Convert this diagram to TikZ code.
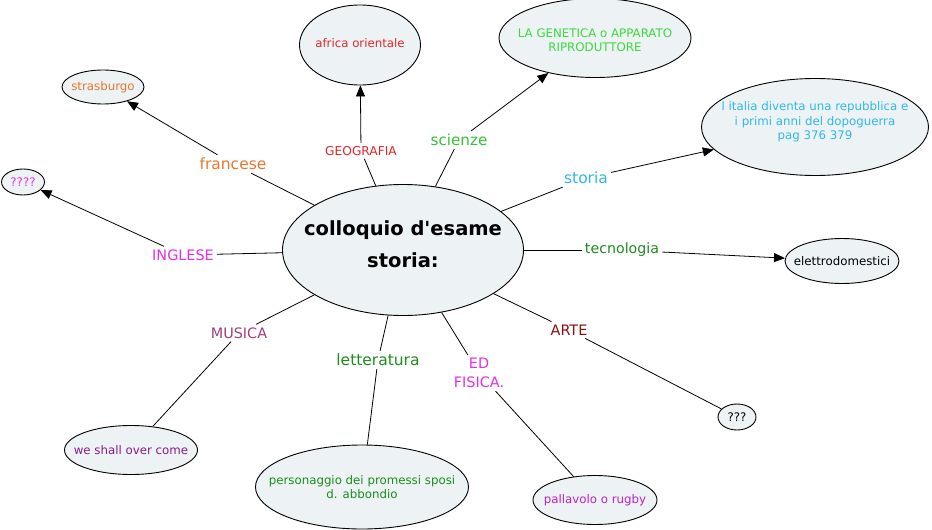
\documentclass[tikz,border=0pt]{standalone}
\usepackage{fontspec}
\setmainfont{DejaVu Sans}
\usetikzlibrary{shapes.geometric,arrows.meta}
\definecolor{bubblefill}{HTML}{EDF3F5}
\definecolor{corange}{HTML}{E8782C}
\definecolor{cred}{HTML}{E02828}
\definecolor{cbgreen}{HTML}{3CD83C}
\definecolor{ccyan}{HTML}{30B8EA}
\definecolor{cdgreen}{HTML}{1E8C1E}
\definecolor{cdarkred}{HTML}{8B1010}
\definecolor{cmagenta}{HTML}{E62EE6}
\definecolor{cpall}{HTML}{C020C0}
\definecolor{cmusica}{HTML}{A0407A}
\definecolor{cpurple}{HTML}{8B1A8B}
\tikzset{
  bubble/.style={ellipse, draw=black, line width=0.9pt, fill=bubblefill, inner sep=0pt},
  ntext/.style={font=\fontsize{11.8}{14.5}\selectfont, align=center, inner sep=0pt},
  lab/.style={font=\fontsize{14.4}{19}\selectfont, align=center, inner sep=3pt},
  conn/.style={draw=black, line width=0.8pt},
  arr/.style={conn, -{Triangle[length=11pt,width=9pt]}}
}
\begin{document}
\begin{tikzpicture}[x=1pt,y=-1pt]
\useasboundingbox[fill=white] (0,0) rectangle (932,530);
% central concept
\node[bubble, minimum width=241, minimum height=131] (c) at (403,250) {};
\node[font=\bfseries\fontsize{19.5}{32}\selectfont, align=center, inner sep=0pt] (ct) at (403,244) {colloquio d\textquotesingle esame\\storia:};
% leaf bubbles
\node[bubble, minimum width=82, minimum height=34] (stra) at (103,87) {};
\node[ntext, text=corange] (stra-t) at (stra) {strasburgo};
\node[bubble, minimum width=43, minimum height=26] (q4) at (23,182) {};
\node[ntext, text=cmagenta] (q4-t) at (q4) {????};
\node[bubble, minimum width=121, minimum height=80] (afr) at (360,45) {};
\node[ntext, text=cred] (afr-t) at (360,43) {africa orientale};
\node[bubble, minimum width=192, minimum height=79] (gen) at (595,38) {};
\node[ntext, text=cbgreen] (gen-t) at (595,40) {LA GENETICA o APPARATO\\RIPRODUTTORE};
\node[bubble, minimum width=227, minimum height=97] (stn) at (815,127) {};
\node[ntext, text=ccyan] (stn-t) at (815,122) {l italia diventa una repubblica e\\i primi anni del dopoguerra\\pag 376 379};
\node[bubble, minimum width=114, minimum height=45] (ele) at (842,261) {};
\node[ntext, text=black] (ele-t) at (ele) {elettrodomestici};
\node[bubble, minimum width=38, minimum height=26] (q3) at (737,417) {};
\node[ntext, text=black] (q3-t) at (q3) {???};
\node[bubble, minimum width=124, minimum height=49] (pal) at (595,500) {};
\node[ntext, text=cpall] (pal-t) at (pal) {pallavolo o rugby};
\node[bubble, minimum width=213, minimum height=84] (per) at (362,487) {};
\node[ntext, text=cdgreen] (per-t) at (362,487) {personaggio dei promessi sposi\\d. abbondio};
\node[bubble, minimum width=133, minimum height=49] (we) at (131,450) {};
\node[ntext, text=cpurple] (we-t) at (we) {we shall over come};
% linking labels
\node[lab, text=corange, font=\fontsize{15.5}{19}\selectfont] (fr) at (233,164) {francese};
\node[lab, text=cred, font=\fontsize{12.2}{15}\selectfont] (geo) at (361,151) {GEOGRAFIA};
\node[lab, text=cbgreen!90!black, font=\fontsize{15.2}{19}\selectfont] (sci) at (459,140) {scienze};
\node[lab, text=ccyan, font=\fontsize{15.5}{19}\selectfont] (sto) at (586,178) {storia};
\node[lab, text=cdgreen, font=\fontsize{14.2}{19}\selectfont] (tec) at (622,250) {tecnologia};
\node[lab, text=cdarkred] (arte) at (569,330) {ARTE};
\node[lab, text=cmagenta] (ed) at (479,373) {ED\\FISICA.};
\node[lab, text=cdgreen, font=\fontsize{15.5}{19}\selectfont] (let) at (378,360) {letteratura};
\node[lab, text=cmusica] (mus) at (239,333) {MUSICA};
\node[lab, text=cmagenta] (ing) at (183,255) {INGLESE};
% connectors
\draw[conn] (c) -- (fr);
\draw[arr] (fr) -- (stra);
\draw[conn] (c) -- (geo);
\draw[arr] (geo) -- (afr);
\draw[conn] (c) -- (sci);
\draw[arr] (sci) -- (gen);
\draw[conn] (c) -- (sto);
\draw[arr] (sto) -- (stn);
\draw[conn] (c) -- (tec);
\draw[arr] (tec) -- (ele);
\draw[conn] (c) -- (arte);
\draw[conn] (arte) -- (q3);
\draw[conn] (c) -- (ed);
\draw[conn] (ed) -- (pal);
\draw[conn] (c) -- (let);
\draw[conn] (let) -- (per);
\draw[conn] (c) -- (mus);
\draw[conn] (mus) -- (we);
\draw[conn] (c) -- (ing);
\draw[arr] (ing) -- (q4);
\end{tikzpicture}
\end{document}
